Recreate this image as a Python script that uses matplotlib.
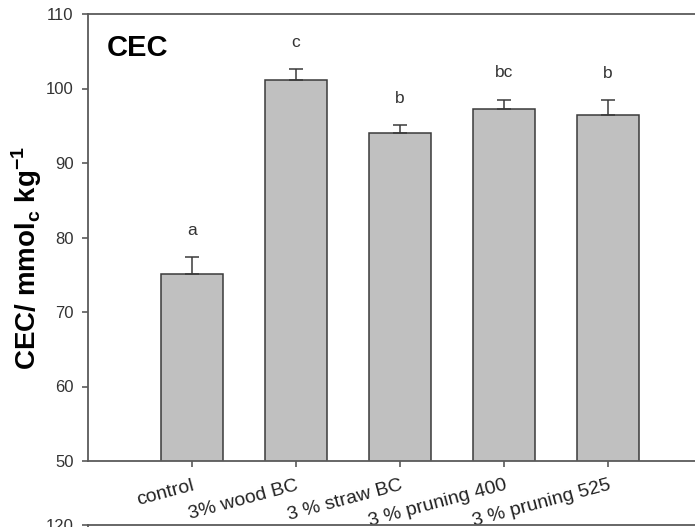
import matplotlib
matplotlib.use("Agg")
import matplotlib.pyplot as plt

plt.rcParams['font.family'] = ['Liberation Sans', 'DejaVu Sans']
plt.rcParams['mathtext.fontset'] = 'custom'
plt.rcParams['mathtext.rm'] = 'Liberation Sans'
plt.rcParams['mathtext.bf'] = 'Liberation Sans:bold'

categories = ["control", "3% wood BC", "3 % straw BC", "3 % pruning 400", "3 % pruning 525"]
means = [75.1, 101.1, 94.0, 97.2, 96.5]
errors = [2.3, 1.5, 1.1, 1.3, 1.9]
letters = ["a", "c", "b", "bc", "b"]
yticks = [50, 60, 70, 80, 90, 100, 110]

W, H = 695, 527
fig = plt.figure(figsize=(W / 100, H / 100), dpi=100)

def px_axes(left, top, right, bottom):
    return [left / W, 1 - bottom / H, (right - left) / W, (bottom - top) / H]

spine_c = '#5a5a5a'
text_c = '#333333'

ax = fig.add_axes(px_axes(88, 14, 712, 461))
x = list(range(1, len(categories) + 1))
ax.bar(x, means, width=0.6, color='#c0c0c0', edgecolor='#3a3a3a', linewidth=1.1, zorder=2)
ax.errorbar(x, means, yerr=[[0] * len(errors), errors], fmt='none', ecolor='#3a3a3a',
            elinewidth=1.1, capsize=4.8, capthick=1.1, zorder=3)
for xi, m, e, lab in zip(x, means, errors, letters):
    ax.text(xi, m + e + 3.6, lab, ha='center', va='center', fontsize=12.5, color=text_c)

ax.set_xlim(0, 6)
ax.set_ylim(50, 110)
ax.set_yticks(yticks)
ax.set_xticks(x)
ax.set_xticklabels(categories, rotation=15, ha='right', rotation_mode='anchor',
                   fontsize=14, color='#222222')
ax.tick_params(axis='y', labelsize=12, labelcolor=text_c, length=4.5, width=1.2,
               color=spine_c, pad=6)
ax.tick_params(axis='x', length=4.5, width=1.2, color=spine_c, pad=7)
for s in ['left', 'bottom', 'top', 'right']:
    ax.spines[s].set_color(spine_c)
    ax.spines[s].set_linewidth(1.3)

ax.set_ylabel(r'CEC/ mmol$_\mathbf{c}$ kg$^\mathbf{-1}$', fontsize=20, fontweight='bold',
              color='black')
ax.yaxis.set_label_coords(-0.07, 0.455)
ax.text(0.03, 0.925, 'CEC', transform=ax.transAxes, fontsize=21, fontweight='bold',
        ha='left', va='center', color='black')

# second panel, cut off at the bottom
ax2 = fig.add_axes(px_axes(88, 525, 712, 972))
ax2.set_ylim(60, 120)
ax2.set_yticks([120])
ax2.set_xticks([])
ax2.tick_params(axis='y', labelsize=12, labelcolor=text_c, length=4.5, width=1.2,
                color=spine_c, pad=6)
for s in ['left', 'bottom', 'top', 'right']:
    ax2.spines[s].set_color(spine_c)
    ax2.spines[s].set_linewidth(1.3)

fig.savefig('out.png', dpi=100)
